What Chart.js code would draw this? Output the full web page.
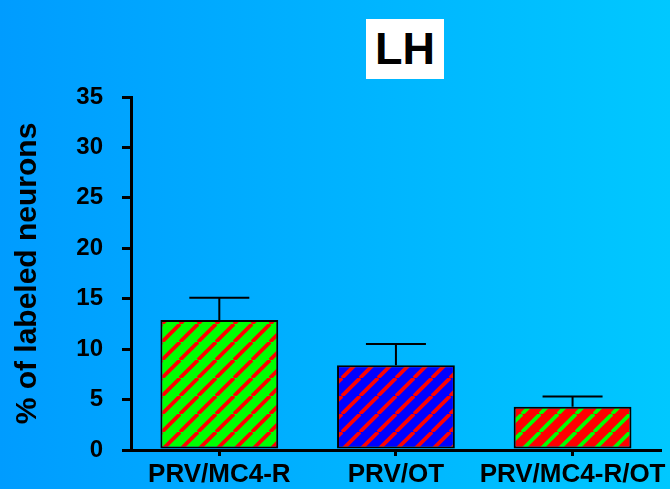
<!DOCTYPE html>
<html>
<head>
<meta charset="utf-8">
<script src="https://cdn.jsdelivr.net/npm/chart.js@4"></script>
<style>
    body { margin: 0; }
    #wrap { position: relative; width: 670px; height: 489px; }
    #title-box {
        position: absolute; left: 366px; top: 19px; width: 78px; height: 60px;
        background: #ffffff; color: #000000;
        font: bold 45px "Liberation Sans", Arial, sans-serif;
        line-height: 60px; text-align: center;
    }
</style>
</head>
<body>
<div id="wrap">
    <canvas id="lh-graph" width="670" height="489"></canvas>
    <div id="title-box">LH</div>
</div>
<script>
var categories = ['PRV/MC4-R', 'PRV/OT', 'PRV/MC4-R/OT'];
var percentLabeled = [12.9, 8.4, 4.3];
var percentError = [2.2, 2.1, 1.0];
var yTicks = [0, 5, 10, 15, 20, 25, 30, 35];

function stripes(bg, fg) {
    var s = 18;
    var c = document.createElement('canvas');
    c.width = s;
    c.height = s;
    var g = c.getContext('2d');
    g.fillStyle = bg;
    g.fillRect(0, 0, s, s);
    g.strokeStyle = fg;
    g.lineWidth = 3.8;
    for (var k = -1; k <= 1; k++) {
        g.beginPath();
        g.moveTo(k * s, s);
        g.lineTo((k + 1) * s, 0);
        g.stroke();
    }
    return g.createPattern(c, 'repeat');
}

var background = {
    id: 'background',
    beforeDraw: function(chart) {
        var ctx = chart.ctx;
        var grad = ctx.createLinearGradient(0, 0, chart.width, 0);
        grad.addColorStop(0, '#009cff');
        grad.addColorStop(1, '#00c8ff');
        ctx.save();
        ctx.fillStyle = grad;
        ctx.fillRect(0, 0, chart.width, chart.height);
        ctx.restore();
    }
};

var errorBars = {
    id: 'errorBars',
    beforeDatasetsDraw: function(chart) {
        var ctx = chart.ctx;
        var meta = chart.getDatasetMeta(0);
        var y = chart.scales.y;
        ctx.save();
        ctx.strokeStyle = '#000000';
        ctx.lineWidth = 2;
        meta.data.forEach(function(bar, i) {
            var top = y.getPixelForValue(percentLabeled[i] + percentError[i]);
            ctx.beginPath();
            ctx.moveTo(bar.x, bar.y);
            ctx.lineTo(bar.x, top);
            ctx.moveTo(bar.x - 30, top);
            ctx.lineTo(bar.x + 30, top);
            ctx.stroke();
        });
        ctx.restore();
    }
};

var ctx = document.getElementById('lh-graph').getContext('2d');
var lh_graph = new Chart(ctx, {
    type: 'bar',
    data: {
        labels: categories,
        datasets: [{
            label: '% of labeled neurons',
            data: percentLabeled,
            backgroundColor: [
                stripes('#00ff00', '#ff0000'),
                stripes('#0000ff', '#ff0000'),
                stripes('#ff0000', '#00ff00')
            ],
            borderColor: '#000000',
            borderWidth: 2,
            borderSkipped: false,
            categoryPercentage: 1,
            barPercentage: 0.667
        }]
    },
    options: {
        responsive: false,
        animation: false,
        layout: { padding: { top: 97, right: 9, left: 0, bottom: 0 } },
        plugins: {
            legend: { display: false },
            tooltip: { enabled: false }
        },
        scales: {
            x: {
                afterFit: function(scale) { scale.height = 39; },
                grid: {
                    offset: false,
                    drawOnChartArea: false,
                    color: '#000000',
                    lineWidth: 3,
                    tickLength: 6
                },
                border: { color: '#000000', width: 3 },
                ticks: {
                    color: '#000000',
                    padding: 3,
                    autoSkip: false,
                    maxRotation: 0,
                    font: { family: 'Liberation Sans', size: 26, weight: 'bold' }
                }
            },
            y: {
                min: 0,
                max: 35,
                afterFit: function(scale) { scale.width = 131; },
                afterBuildTicks: function(scale) {
                    scale.ticks = yTicks.map(function(v) { return { value: v }; });
                },
                grid: {
                    drawOnChartArea: false,
                    color: '#000000',
                    lineWidth: 3,
                    tickLength: 9
                },
                border: { color: '#000000', width: 3 },
                ticks: {
                    color: '#000000',
                    padding: 19,
                    font: { family: 'Liberation Sans', size: 24, weight: 'bold' }
                },
                title: {
                    display: true,
                    text: '% of labeled neurons',
                    color: '#000000',
                    padding: { top: 10, bottom: 0 },
                    font: { family: 'Liberation Sans', size: 30, weight: 'bold' }
                }
            }
        }
    },
    plugins: [background, errorBars]
});
</script>
</body>
</html>
